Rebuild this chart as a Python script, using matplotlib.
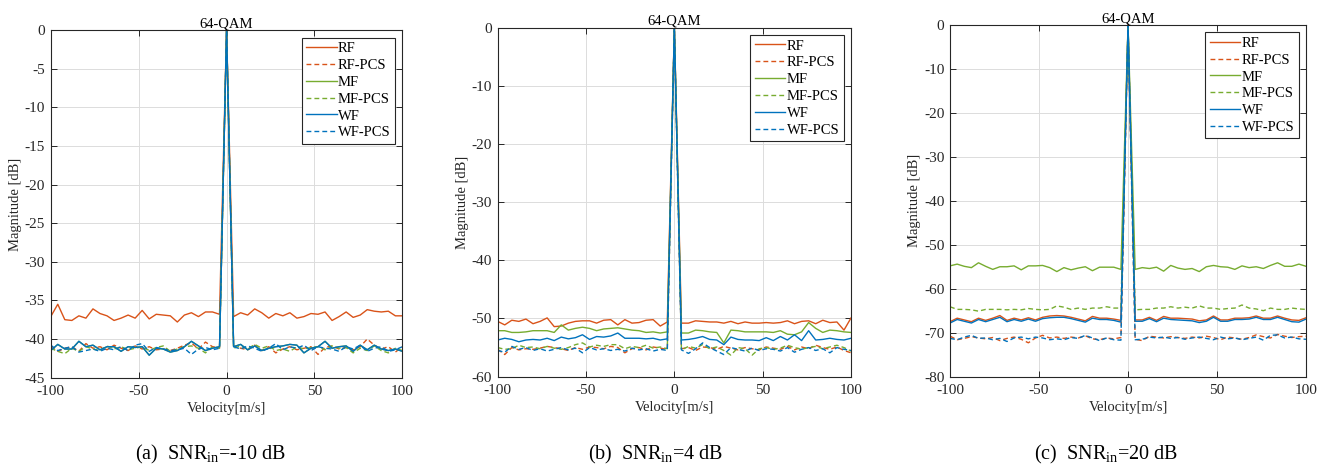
import matplotlib
matplotlib.use('Agg')
import matplotlib.pyplot as plt

plt.rcParams['font.family'] = ['Liberation Serif', 'DejaVu Serif']
plt.rcParams['mathtext.fontset'] = 'custom'
plt.rcParams['mathtext.rm'] = 'Liberation Serif'
plt.rcParams['axes.unicode_minus'] = False

VEL = [-100, -96, -92, -88, -84, -80, -76, -72, -68, -64, -60, -56, -52, -48, -44,
       -40, -36, -32, -28, -24, -20, -16, -12, -8, -4, 0,
       4, 8, 12, 16, 20, 24, 28, 32, 36, 40, 44, 48, 52, 56, 60, 64, 68, 72,
       76, 80, 84, 88, 92, 96, 100]

# (a) SNR_in = -10 dB
A_RF = [-37.1, -35.5, -37.5, -37.6, -37.0, -37.3, -36.1, -36.7, -37.0, -37.6,
        -37.3, -36.9, -37.3, -36.3, -37.4, -36.8, -36.9, -37.0, -37.8, -36.9,
        -36.6, -37.1, -36.5, -36.5, -36.8, 0.0,
        -37.1, -36.6, -36.9, -36.1, -36.6, -37.3, -36.7, -37.0, -36.6, -37.3,
        -37.1, -36.7, -36.8, -36.5, -37.6, -37.1, -36.5, -37.2, -36.9, -36.2,
        -36.4, -36.5, -36.4, -37.0, -37.0]
A_RF_PCS = [-41.0, -41.6, -41.2, -41.0, -41.6, -40.6, -41.2, -41.0, -41.4, -40.8,
            -41.2, -41.5, -40.9, -41.3, -41.0, -41.4, -41.3, -41.5, -41.2, -40.8,
            -40.5, -41.3, -40.4, -41.0, -41.1, 0.0,
            -40.9, -41.2, -41.4, -40.8, -41.5, -41.0, -41.8, -41.3, -41.0, -41.4,
            -41.2, -41.0, -42.0, -41.1, -40.9, -41.3, -41.1, -41.4, -41.0, -40.0,
            -40.8, -41.3, -41.0, -41.7, -41.0]
A_MF = [-41.5, -40.7, -41.3, -41.3, -40.3, -41.0, -40.8, -41.4, -41.0, -41.0,
        -41.6, -41.0, -41.1, -41.0, -42.1, -41.2, -41.3, -41.7, -41.5, -41.0,
        -40.3, -40.9, -41.5, -41.2, -41.0, 0.0,
        -41.0, -40.7, -41.4, -40.9, -41.5, -41.2, -41.0, -40.9, -40.7, -40.8,
        -41.8, -41.2, -41.0, -40.3, -41.2, -41.0, -40.9, -41.6, -40.8, -41.4,
        -40.8, -41.3, -41.5, -41.3, -41.6]
A_MF_PCS = [-41.2, -41.6, -41.9, -41.2, -41.6, -41.0, -41.3, -41.5, -40.9, -41.3,
            -41.0, -41.4, -41.2, -41.0, -41.5, -41.1, -40.9, -41.6, -41.3, -41.0,
            -40.9, -41.2, -41.8, -41.0, -41.2, 0.0,
            -41.2, -40.9, -41.3, -40.7, -41.2, -40.9, -41.5, -41.3, -41.6, -41.0,
            -41.3, -41.1, -41.0, -41.4, -40.9, -41.2, -41.1, -41.8, -41.2, -41.5,
            -40.9, -41.5, -41.8, -41.2, -41.5]
A_WF = [-41.5, -40.7, -41.3, -41.3, -40.3, -41.0, -40.8, -41.4, -41.0, -41.0,
        -41.6, -41.0, -41.1, -41.0, -42.1, -41.2, -41.3, -41.7, -41.5, -41.0,
        -40.3, -40.9, -41.5, -41.2, -41.0, 0.0,
        -41.0, -40.7, -41.4, -40.9, -41.5, -41.2, -41.0, -40.9, -40.7, -40.8,
        -41.8, -41.2, -41.0, -40.3, -41.2, -41.0, -40.9, -41.6, -40.8, -41.4,
        -40.8, -41.3, -41.5, -41.3, -41.6]
A_WF_PCS = [-40.8, -41.5, -41.2, -41.0, -41.7, -41.5, -41.3, -41.6, -41.2, -41.4,
            -41.0, -41.5, -40.8, -40.6, -41.6, -41.1, -41.3, -41.5, -41.4, -41.2,
            -42.0, -41.3, -41.1, -41.4, -41.2, 0.0,
            -41.0, -41.3, -40.9, -41.2, -41.6, -41.2, -40.6, -41.4, -41.0, -41.2,
            -40.8, -41.5, -41.0, -41.2, -41.3, -41.6, -41.0, -41.3, -40.8, -41.6,
            -41.2, -41.0, -41.6, -41.4, -41.0]

# (b) SNR_in = 4 dB
B_RF = [-50.5, -51.1, -50.3, -50.5, -50.1, -50.9, -50.5, -49.9, -51.4, -51.3,
        -50.8, -50.5, -50.4, -50.4, -50.8, -50.3, -50.2, -51.1, -50.2, -50.8,
        -50.7, -50.3, -50.2, -51.3, -50.6, 0.0,
        -50.8, -50.8, -50.4, -50.5, -50.6, -50.6, -50.8, -50.5, -50.9, -50.6,
        -50.8, -50.8, -50.7, -50.8, -50.7, -50.4, -50.9, -50.5, -50.4, -50.9,
        -50.3, -50.7, -50.6, -52.0, -49.9]
B_RF_PCS = [-55.3, -56.2, -55.0, -55.4, -55.2, -55.3, -55.1, -54.8, -55.0, -55.2,
            -55.5, -55.0, -55.3, -54.9, -55.0, -55.2, -54.8, -55.0, -55.9, -55.2,
            -55.0, -55.4, -54.9, -55.1, -55.3, 0.0,
            -55.2, -55.0, -55.5, -54.9, -55.0, -55.3, -54.8, -55.1, -55.4, -55.0,
            -55.2, -55.4, -54.9, -55.1, -55.3, -54.8, -55.4, -54.9, -55.2, -54.6,
            -55.0, -55.3, -54.9, -55.5, -55.9]
B_MF = [-52.1, -52.1, -52.4, -52.4, -52.3, -52.1, -52.1, -52.1, -52.4, -51.1,
        -52.0, -51.7, -51.5, -51.7, -52.1, -51.8, -51.7, -51.6, -51.8, -52.0,
        -52.1, -52.4, -52.3, -52.5, -52.3, 0.0,
        -52.5, -52.5, -52.0, -52.1, -52.3, -52.4, -54.2, -52.0, -52.1, -52.3,
        -52.3, -52.3, -52.3, -52.4, -52.1, -52.7, -52.8, -52.3, -50.7, -51.7,
        -52.4, -52.0, -52.1, -52.3, -52.4]
B_MF_PCS = [-55.0, -55.3, -55.2, -54.6, -55.0, -54.9, -55.2, -54.8, -55.1, -55.3,
            -55.0, -54.5, -54.2, -54.9, -54.6, -54.8, -54.5, -54.5, -55.2, -54.8,
            -55.0, -54.6, -55.1, -54.9, -55.2, 0.0,
            -55.4, -54.8, -55.1, -54.5, -55.2, -54.9, -55.5, -56.3, -55.0, -55.2,
            -56.3, -55.2, -55.0, -55.3, -55.1, -54.6, -55.0, -55.3, -55.0, -54.8,
            -55.2, -54.9, -54.6, -55.0, -55.6]
B_WF = [-53.7, -53.4, -53.6, -54.0, -53.7, -53.6, -53.7, -53.4, -53.8, -53.2,
        -53.5, -53.3, -52.8, -53.6, -53.1, -53.2, -53.0, -52.5, -53.4, -53.4,
        -53.4, -53.5, -53.4, -53.7, -53.5, 0.0,
        -53.7, -53.6, -53.4, -53.1, -53.6, -53.7, -54.5, -53.2, -53.6, -53.7,
        -53.7, -53.8, -53.3, -53.8, -53.1, -53.7, -52.8, -53.8, -52.1, -53.7,
        -53.6, -53.4, -53.6, -53.7, -53.4]
B_WF_PCS = [-55.5, -55.8, -54.8, -55.3, -55.0, -55.5, -55.2, -55.6, -55.3, -55.0,
            -55.4, -55.1, -55.9, -55.0, -55.4, -55.2, -55.5, -55.3, -55.6, -55.1,
            -55.4, -55.2, -55.6, -55.3, -55.5, 0.0,
            -55.4, -56.0, -55.2, -54.2, -55.0, -55.6, -56.2, -55.0, -55.3, -55.6,
            -55.1, -55.5, -55.2, -55.3, -55.6, -55.0, -55.8, -55.3, -55.0, -55.5,
            -55.2, -55.9, -55.0, -55.3, -55.5]

# (c) SNR_in = 20 dB
C_RF = [-67.5, -66.7, -67.1, -67.5, -66.7, -67.2, -66.7, -66.1, -67.2, -66.7,
        -67.1, -66.6, -67.1, -66.5, -66.2, -66.1, -66.2, -66.5, -66.9, -67.3,
        -66.3, -66.7, -66.7, -66.9, -67.2, 0.0,
        -67.1, -67.1, -66.5, -67.2, -66.3, -66.7, -66.7, -66.8, -66.9, -67.3,
        -67.1, -66.2, -67.1, -67.1, -66.7, -66.7, -66.6, -66.2, -66.7, -66.7,
        -66.2, -66.7, -67.1, -67.2, -66.6]
C_RF_PCS = [-70.8, -71.6, -71.3, -70.9, -71.2, -71.4, -71.1, -71.8, -71.3, -71.0,
            -71.5, -72.3, -71.2, -70.6, -71.2, -71.0, -71.3, -71.0, -71.2, -70.7,
            -71.4, -71.6, -71.2, -71.4, -71.1, 0.0,
            -71.5, -71.8, -70.8, -71.0, -71.2, -70.9, -71.1, -71.3, -71.0, -71.2,
            -70.8, -71.1, -71.6, -71.0, -71.2, -71.5, -71.1, -70.5, -70.9, -71.2,
            -70.4, -70.8, -71.1, -70.9, -70.8]
C_MF = [-54.8, -54.4, -54.9, -55.2, -54.1, -54.9, -55.6, -55.0, -55.0, -54.8,
        -55.7, -54.8, -54.8, -54.7, -55.2, -56.1, -55.2, -55.7, -55.3, -55.0,
        -55.9, -55.1, -55.1, -55.1, -55.6, 0.0,
        -55.6, -55.2, -55.4, -55.1, -56.0, -54.7, -55.3, -55.6, -55.4, -56.1,
        -55.0, -54.7, -55.0, -55.1, -55.6, -54.8, -55.2, -55.0, -55.4, -54.7,
        -54.1, -54.9, -54.9, -54.4, -54.9]
C_MF_PCS = [-64.1, -64.7, -64.7, -64.8, -65.1, -64.7, -64.7, -64.7, -64.8, -64.7,
            -64.8, -64.5, -64.7, -64.8, -64.7, -63.9, -64.2, -64.7, -64.4, -64.7,
            -64.4, -64.4, -64.1, -64.4, -64.4, 0.0,
            -64.8, -64.7, -64.7, -64.4, -64.4, -64.1, -64.4, -64.2, -64.4, -63.9,
            -64.4, -64.4, -64.7, -64.5, -64.4, -63.7, -64.4, -64.6, -65.0, -64.4,
            -64.7, -64.7, -64.4, -64.6, -64.7]
C_WF = [-67.8, -67.0, -67.4, -67.8, -67.0, -67.5, -67.0, -66.5, -67.5, -67.0,
        -67.4, -66.9, -67.4, -66.8, -66.6, -66.5, -66.5, -66.8, -67.2, -67.6,
        -66.7, -67.0, -67.0, -67.2, -67.6, 0.0,
        -67.4, -67.4, -66.8, -67.5, -66.7, -67.0, -67.1, -67.2, -67.3, -67.7,
        -67.4, -66.5, -67.4, -67.4, -67.0, -67.0, -66.9, -66.5, -67.0, -67.0,
        -66.5, -67.0, -67.5, -67.6, -66.9]
C_WF_PCS = [-71.3, -71.6, -71.0, -70.6, -71.3, -71.2, -71.6, -71.3, -72.0, -71.2,
            -71.0, -71.4, -71.0, -71.2, -71.6, -71.4, -71.6, -71.1, -71.3, -70.6,
            -71.2, -71.8, -71.2, -71.6, -71.7, 0.0,
            -71.6, -71.5, -71.0, -71.2, -71.0, -71.3, -71.1, -71.5, -71.2, -71.0,
            -71.3, -71.6, -71.0, -71.4, -71.2, -71.6, -71.3, -71.0, -71.7, -70.6,
            -70.5, -71.2, -71.0, -71.4, -71.5]

NAMES = ['RF', 'RF-PCS', 'MF', 'MF-PCS', 'WF', 'WF-PCS']
COLORS = ['#D95319', '#D95319', '#77AC30', '#77AC30', '#0072BD', '#0072BD']
STYLES = ['-', '--', '-', '--', '-', '--']

PANELS = [
    ([A_RF, A_RF_PCS, A_MF, A_MF_PCS, A_WF, A_WF_PCS], (-45, 0), range(-45, 1, 5), '(a)', '-10'),
    ([B_RF, B_RF_PCS, B_MF, B_MF_PCS, B_WF, B_WF_PCS], (-60, 0), range(-60, 1, 10), '(b)', '4'),
    ([C_RF, C_RF_PCS, C_MF, C_MF_PCS, C_WF, C_WF_PCS], (-80, 0), range(-80, 1, 10), '(c)', '20'),
]
# axes positions in figure fractions
POS = [[0.0383, 0.188, 0.2654, 0.747],
       [0.3756, 0.190, 0.2667, 0.7505],
       [0.7170, 0.190, 0.2687, 0.7563]]
CAP_X = [0.159, 0.495, 0.835]

fig = plt.figure(figsize=(13.25, 4.65), dpi=100)
tc = '#262626'
for p, (series, ylim, yt, lab, snr) in enumerate(PANELS):
    ax = fig.add_axes(POS[p])
    for i in range(len(series)):
        ln, = ax.plot(VEL, series[i], STYLES[i], color=COLORS[i], lw=1.0, label=NAMES[i])
        if STYLES[i] == '--':
            ln.set_dashes((3.5, 2.2))
    ax.set_xlim(-100, 100)
    ax.set_ylim(*ylim)
    ax.set_xticks([-100, -50, 0, 50, 100])
    ax.set_yticks(list(yt))
    ax.grid(True, color='#DCDCDC', lw=0.7)
    ax.tick_params(direction='in', top=True, right=True, labelsize=11,
                   colors=tc, length=4, width=0.7)
    ax.tick_params(axis='x', pad=5)
    ax.tick_params(axis='y', pad=4)
    for s in ax.spines.values():
        s.set_color(tc)
        s.set_linewidth(0.8)
    ax.set_xlabel('Velocity[m/s]', fontsize=10.5, color=tc, labelpad=3)
    ax.set_ylabel('Magnitude [dB]', fontsize=10.5, color=tc, labelpad=2)
    ax.set_title('64-QAM', fontsize=10.5, color='black', pad=2)
    leg = ax.legend(loc='upper right', fontsize=10.5, handlelength=2.1,
                    handletextpad=0.1, labelspacing=0.25, borderpad=0.3,
                    fancybox=False, framealpha=1, borderaxespad=0.5)
    leg.get_frame().set_edgecolor(tc)
    leg.get_frame().set_linewidth(0.8)
    fig.text(CAP_X[p], 0.012, lab + '  SNR$_{\\mathrm{in}}$=' + snr + ' dB',
             ha='center', va='baseline', fontsize=14.5)

fig.savefig('out.png', dpi=100)
